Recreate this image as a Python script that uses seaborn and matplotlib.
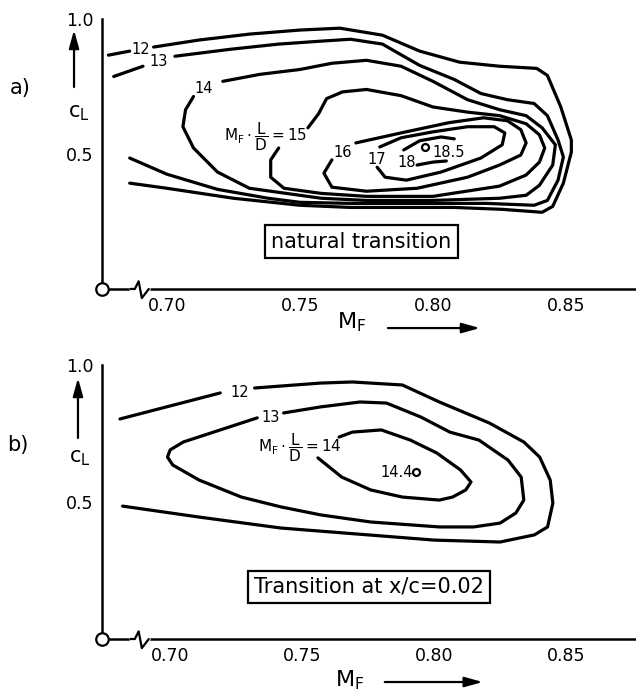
# contour map of M_F * L/D over (M_F, c_L), two transition cases

import numpy as np
import pandas as pd
import matplotlib.pyplot as plt
import seaborn as sns

# ---- panel a) natural transition : contour strokes (M_F, c_L) ----
a12s_m = [0.678, 0.686]
a12s_cl = [0.866, 0.881]
a12_m = [0.695, 0.712, 0.731, 0.750, 0.765, 0.781, 0.795, 0.810, 0.825, 0.839, 0.843, 0.848, 0.852,
         0.852, 0.849, 0.845, 0.841, 0.826, 0.808, 0.788, 0.769, 0.750, 0.725, 0.700, 0.686]
a12_cl = [0.896, 0.922, 0.944, 0.959, 0.966, 0.940, 0.881, 0.840, 0.825, 0.817, 0.791, 0.675, 0.552,
          0.507, 0.392, 0.306, 0.284, 0.295, 0.302, 0.302, 0.302, 0.310, 0.336, 0.373, 0.392]

a13s_m = [0.680, 0.691]
a13s_cl = [0.787, 0.825]
a13_m = [0.703, 0.724, 0.742, 0.758, 0.769, 0.781, 0.795, 0.808, 0.818, 0.828, 0.838, 0.843, 0.847,
         0.849, 0.847, 0.843, 0.838, 0.820, 0.795, 0.769, 0.750, 0.738, 0.719, 0.700, 0.686]
a13_cl = [0.862, 0.888, 0.907, 0.918, 0.925, 0.907, 0.828, 0.776, 0.724, 0.701, 0.687, 0.642, 0.552,
          0.489, 0.403, 0.328, 0.310, 0.317, 0.317, 0.317, 0.321, 0.336, 0.369, 0.425, 0.485]

a14_m = [0.721, 0.735, 0.750, 0.762, 0.775, 0.788, 0.800, 0.813, 0.825, 0.835, 0.841, 0.846, 0.845,
         0.840, 0.835, 0.825, 0.800, 0.775, 0.758, 0.731, 0.719, 0.710, 0.706, 0.707, 0.710]
a14_cl = [0.769, 0.795, 0.813, 0.836, 0.847, 0.825, 0.769, 0.701, 0.664, 0.642, 0.597, 0.534, 0.459,
          0.384, 0.347, 0.336, 0.328, 0.328, 0.336, 0.373, 0.433, 0.522, 0.601, 0.664, 0.713]

a15_m = [0.753, 0.757, 0.760, 0.766, 0.775, 0.788, 0.800, 0.813, 0.825, 0.835, 0.840, 0.842, 0.840,
         0.835, 0.825, 0.800, 0.775, 0.758, 0.744, 0.739, 0.739, 0.742]
a15_cl = [0.597, 0.649, 0.705, 0.730, 0.739, 0.716, 0.674, 0.655, 0.642, 0.612, 0.571, 0.522, 0.470,
          0.422, 0.381, 0.343, 0.343, 0.354, 0.373, 0.414, 0.478, 0.522]

a16_m = [0.771, 0.788, 0.806, 0.819, 0.828, 0.833, 0.835, 0.833, 0.825, 0.813, 0.794, 0.775, 0.762, 0.759, 0.762]
a16_cl = [0.541, 0.578, 0.616, 0.634, 0.623, 0.590, 0.541, 0.496, 0.459, 0.414, 0.373, 0.362, 0.377, 0.429, 0.478]

a17_m = [0.780, 0.788, 0.800, 0.813, 0.823, 0.827, 0.826, 0.818, 0.803, 0.790, 0.782, 0.779]
a17_cl = [0.526, 0.560, 0.582, 0.601, 0.601, 0.578, 0.534, 0.485, 0.433, 0.403, 0.414, 0.451]

a18u_m = [0.789, 0.795, 0.803, 0.808]
a18u_cl = [0.515, 0.549, 0.563, 0.556]
a18l_m = [0.794, 0.800, 0.805]
a18l_cl = [0.459, 0.470, 0.474]

a_max = (0.797, 0.526)   # 18.5

# ---- panel b) transition at x/c = 0.02 ----
b12s_m = [0.681, 0.719]
b12s_cl = [0.803, 0.898]
b12_m = [0.732, 0.757, 0.769, 0.788, 0.802, 0.821, 0.834, 0.840, 0.844, 0.845, 0.843, 0.838, 0.825,
         0.800, 0.775, 0.742, 0.711, 0.682]
b12_cl = [0.916, 0.934, 0.938, 0.927, 0.865, 0.788, 0.719, 0.664, 0.580, 0.496, 0.409, 0.380, 0.354,
          0.361, 0.380, 0.405, 0.445, 0.485]

b13_m = [0.743, 0.757, 0.772, 0.782, 0.795, 0.806, 0.817, 0.828, 0.833, 0.834, 0.831, 0.825, 0.815,
         0.802, 0.776, 0.757, 0.742, 0.727, 0.711, 0.701, 0.699, 0.700, 0.705, 0.733]
b13_cl = [0.825, 0.847, 0.865, 0.861, 0.810, 0.755, 0.726, 0.653, 0.591, 0.507, 0.460, 0.423, 0.409,
          0.409, 0.427, 0.453, 0.482, 0.518, 0.580, 0.635, 0.664, 0.690, 0.719, 0.807]

b14_m = [0.764, 0.769, 0.780, 0.791, 0.801, 0.810, 0.814, 0.812, 0.807, 0.802, 0.788, 0.776, 0.765, 0.756]
b14_cl = [0.737, 0.755, 0.763, 0.726, 0.679, 0.617, 0.573, 0.544, 0.518, 0.507, 0.518, 0.544, 0.591, 0.661]

b_max = (0.793, 0.609)   # 14.4

x_ticks = [0.70, 0.75, 0.80, 0.85]
x_ticklabels = ["0.70", "0.75", "0.80", "0.85"]
y_ticks = [0.5, 1.0]
y_ticklabels = ["0.5", "1.0"]

sns.set_theme(style="white")
plt.rcParams['font.family'] = ['DejaVu Sans']
plt.rcParams['mathtext.fontset'] = 'dejavusans'
plt.rcParams['mathtext.default'] = 'regular'
plt.rcParams['text.color'] = 'black'
plt.rcParams['xtick.color'] = 'black'
plt.rcParams['ytick.color'] = 'black'

fig = plt.figure(figsize=(6.36, 6.98), dpi=100)
ax_a = fig.add_axes([0.1604, 0.5860, 0.8396, 0.3868])
ax_b = fig.add_axes([0.1604, 0.0845, 0.8396, 0.3926])


def draw_strokes(ax, strokes):
    for m, cl in strokes:
        sns.lineplot(x=m, y=cl, ax=ax, sort=False, estimator=None, color='black',
                     lw=2.3, solid_joinstyle='round', solid_capstyle='round', clip_on=False)


def style_axes(ax, xlim, brk_y):
    ax.set_xlim(*xlim)
    ax.set_ylim(0, 1.0)
    for s in ['top', 'right']:
        ax.spines[s].set_visible(False)
    for s in ['left', 'bottom']:
        ax.spines[s].set_color('black')
        ax.spines[s].set_linewidth(1.8)
    ax.set_xticks(x_ticks)
    ax.set_xticklabels(x_ticklabels)
    ax.set_yticks(y_ticks)
    ax.set_yticklabels(y_ticklabels)
    ax.tick_params(direction='in', length=10, width=1.6, labelsize=12.5, pad=6,
                   colors='black', labelcolor='black')
    ax.set_xlabel('')
    ax.set_ylabel('')
    ax.grid(False)
    # origin circle
    ax.plot([0], [0], marker='o', ms=9, mfc='white', mec='black', mew=1.6,
            transform=ax.transAxes, clip_on=False, zorder=5)
    # axis break
    fig.add_artist(plt.Line2D([0.207, 0.232], [brk_y, brk_y], color='white', lw=4,
                              transform=fig.transFigure))
    fig.add_artist(plt.Line2D([0.205, 0.212, 0.218, 0.223, 0.234],
                              [brk_y, brk_y, brk_y + 0.011, brk_y - 0.013, brk_y],
                              color='black', lw=1.6, transform=fig.transFigure))


# panel a
draw_strokes(ax_a, [(a12s_m, a12s_cl), (a12_m, a12_cl), (a13s_m, a13s_cl), (a13_m, a13_cl),
                    (a14_m, a14_cl), (a15_m, a15_cl), (a16_m, a16_cl), (a17_m, a17_cl),
                    (a18u_m, a18u_cl), (a18l_m, a18l_cl)])
ax_a.plot(*a_max, marker='o', ms=5, mfc='white', mec='black', mew=1.6)
style_axes(ax_a, (0.6756, 0.8763), 0.5860)

lab_kw = dict(ha='center', va='center', fontsize=10.5, color='black')
ax_a.text(0.690, 0.888, '12', **lab_kw)
ax_a.text(0.697, 0.843, '13', **lab_kw)
ax_a.text(0.714, 0.743, '14', **lab_kw)
ax_a.text(0.737, 0.563, r'$M_F\cdot\dfrac{L}{D}=15$', **{**lab_kw, 'fontsize': 11})
ax_a.text(0.766, 0.507, '16', **lab_kw)
ax_a.text(0.779, 0.481, '17', **lab_kw)
ax_a.text(0.790, 0.470, '18', **lab_kw)
ax_a.text(0.806, 0.507, '18.5', **lab_kw)
ax_a.text(0.773, 0.175, 'natural transition', ha='center', va='center', fontsize=15,
          bbox=dict(boxstyle='square,pad=0.3', fc='white', ec='black', lw=1.6))

# panel b
draw_strokes(ax_b, [(b12s_m, b12s_cl), (b12_m, b12_cl), (b13_m, b13_cl), (b14_m, b14_cl)])
ax_b.plot(*b_max, marker='o', ms=5, mfc='white', mec='black', mew=1.6)
style_axes(ax_b, (0.6742, 0.8765), 0.0845)

ax_b.text(0.7265, 0.898, '12', **lab_kw)
ax_b.text(0.738, 0.807, '13', **lab_kw)
ax_b.text(0.749, 0.697, r'$M_F\cdot\dfrac{L}{D}=14$', **{**lab_kw, 'fontsize': 11})
ax_b.text(0.786, 0.609, '14.4', **lab_kw)
ax_b.text(0.7754, 0.190, 'Transition at x/c=0.02', ha='center', va='center', fontsize=15,
          bbox=dict(boxstyle='square,pad=0.3', fc='white', ec='black', lw=1.6))

# panel letters, axis names with arrows
arrow = dict(arrowstyle='-|>,head_length=0.9,head_width=0.25', color='black', lw=1.6,
             mutation_scale=12, shrinkA=0, shrinkB=0)
fig.text(0.031, 0.874, 'a)', fontsize=15, ha='center', va='center')
fig.text(0.028, 0.3625, 'b)', fontsize=15, ha='center', va='center')

fig.text(0.124, 0.838, r'$c_L$', fontsize=15, ha='center', va='center')
ax_a.annotate('', xy=(0.1164, 0.957), xytext=(0.1164, 0.8754), xycoords='figure fraction',
              textcoords='figure fraction', arrowprops=arrow)
fig.text(0.126, 0.3438, r'$c_L$', fontsize=15, ha='center', va='center')
ax_b.annotate('', xy=(0.1226, 0.4585), xytext=(0.1226, 0.3725), xycoords='figure fraction',
              textcoords='figure fraction', arrowprops=arrow)

fig.text(0.5535, 0.5387, r'$M_F$', fontsize=16, ha='center', va='center')
ax_a.annotate('', xy=(0.7547, 0.530), xytext=(0.610, 0.530), xycoords='figure fraction',
              textcoords='figure fraction', arrowprops=arrow)
fig.text(0.550, 0.0258, r'$M_F$', fontsize=16, ha='center', va='center')
ax_b.annotate('', xy=(0.759, 0.0229), xytext=(0.605, 0.0229), xycoords='figure fraction',
              textcoords='figure fraction', arrowprops=arrow)

fig.savefig('out.png', dpi=100, facecolor='white')
